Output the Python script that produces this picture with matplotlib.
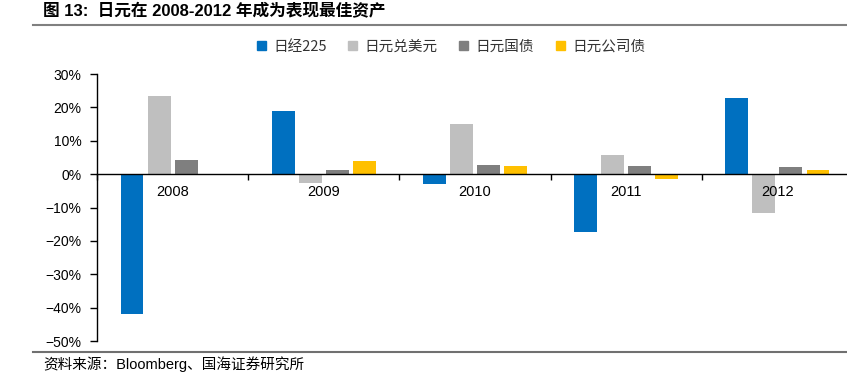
import matplotlib
matplotlib.use("Agg")
import matplotlib.pyplot as plt
import numpy as np
from matplotlib.lines import Line2D
from matplotlib.ticker import FuncFormatter

plt.rcParams['font.family'] = ['Liberation Sans', 'Noto Sans CJK SC', 'DejaVu Sans']
plt.rcParams['axes.unicode_minus'] = True

# data (percent)
years = ["2008", "2009", "2010", "2011", "2012"]
series = ["日经225", "日元兑美元", "日元国债", "日元公司债"]
nikkei = [-42.0, 18.9, -3.0, -17.3, 22.9]
jpy_usd = [23.5, -2.6, 15.0, 5.7, -11.7]
jgb = [4.2, 1.1, 2.7, 2.4, 2.0]
corp = [0.0, 3.9, 2.5, -1.4, 1.2]
colors = ["#0070C0", "#BFBFBF", "#7F7F7F", "#FFC000"]

fig = plt.figure(figsize=(8.47, 3.87), dpi=100)
ax = fig.add_axes([97 / 847, 1 - 341 / 387, 756 / 847, 267 / 387])

x = np.arange(len(years))
step = 0.179
width = 0.152
offsets = np.array([-1.5, -0.5, 0.5, 1.5]) * step
for vals, off, c in zip([nikkei, jpy_usd, jgb, corp], offsets, colors):
    ax.bar(x + off, vals, width=width, color=c, zorder=2)
ax.set_axisbelow(False)

ax.set_xlim(-0.5, 4.5)
ax.set_ylim(-50, 30)
ax.set_yticks(np.arange(-50, 31, 10))
ax.yaxis.set_major_formatter(FuncFormatter(lambda v, p: f"{int(v)}%".replace("-", "\u2212")))
ax.tick_params(axis='y', direction='out', length=5, width=1, labelsize=10,
               pad=6, colors='black')

# x axis through zero, year labels under it, ticks on group boundaries
ax.spines['bottom'].set_position(('data', 0))
ax.set_xticks(np.arange(-0.5, 5, 1))
ax.set_xticklabels([])
ax.tick_params(axis='x', direction='out', length=4, width=1)
ax.set_xticks(x, minor=True)
ax.set_xticklabels(years, minor=True, fontsize=10.5)
ax.tick_params(axis='x', which='minor', length=0, pad=8)

for s in ['top', 'right']:
    ax.spines[s].set_visible(False)
ax.spines['left'].set_linewidth(1)
ax.spines['bottom'].set_linewidth(1)

# legend
handles = [plt.Rectangle((0, 0), 1, 1, color=c) for c in colors]
fig.legend(handles, series, loc='center', bbox_to_anchor=(451 / 847, 1 - 47 / 387),
           ncol=4, frameon=False, handlelength=0.6, handleheight=0.6,
           handletextpad=0.5, columnspacing=1.5,
           prop={'family': ['Noto Sans CJK SC'], 'size': 10.5}, labelcolor='#333333')

# title and source with rules
fig.text(43 / 847, 1 - 11 / 387, "图 13:  日元在 2008-2012 年成为表现最佳资产",
         fontsize=12, fontweight='bold', va='center', ha='left',
         family=['Liberation Sans', 'Noto Sans CJK SC'])
fig.add_artist(Line2D([33 / 847, 1], [1 - 25 / 387] * 2, color='#808080', lw=1.5))
fig.add_artist(Line2D([33 / 847, 1], [1 - 352 / 387] * 2, color='#707070', lw=1.5))
fig.text(43 / 847, 1 - 364 / 387, "资料来源：Bloomberg、国海证券研究所",
         fontsize=10.5, va='center', ha='left',
         family=['Liberation Sans', 'Noto Sans CJK SC'])

fig.savefig("out.png", dpi=100)
